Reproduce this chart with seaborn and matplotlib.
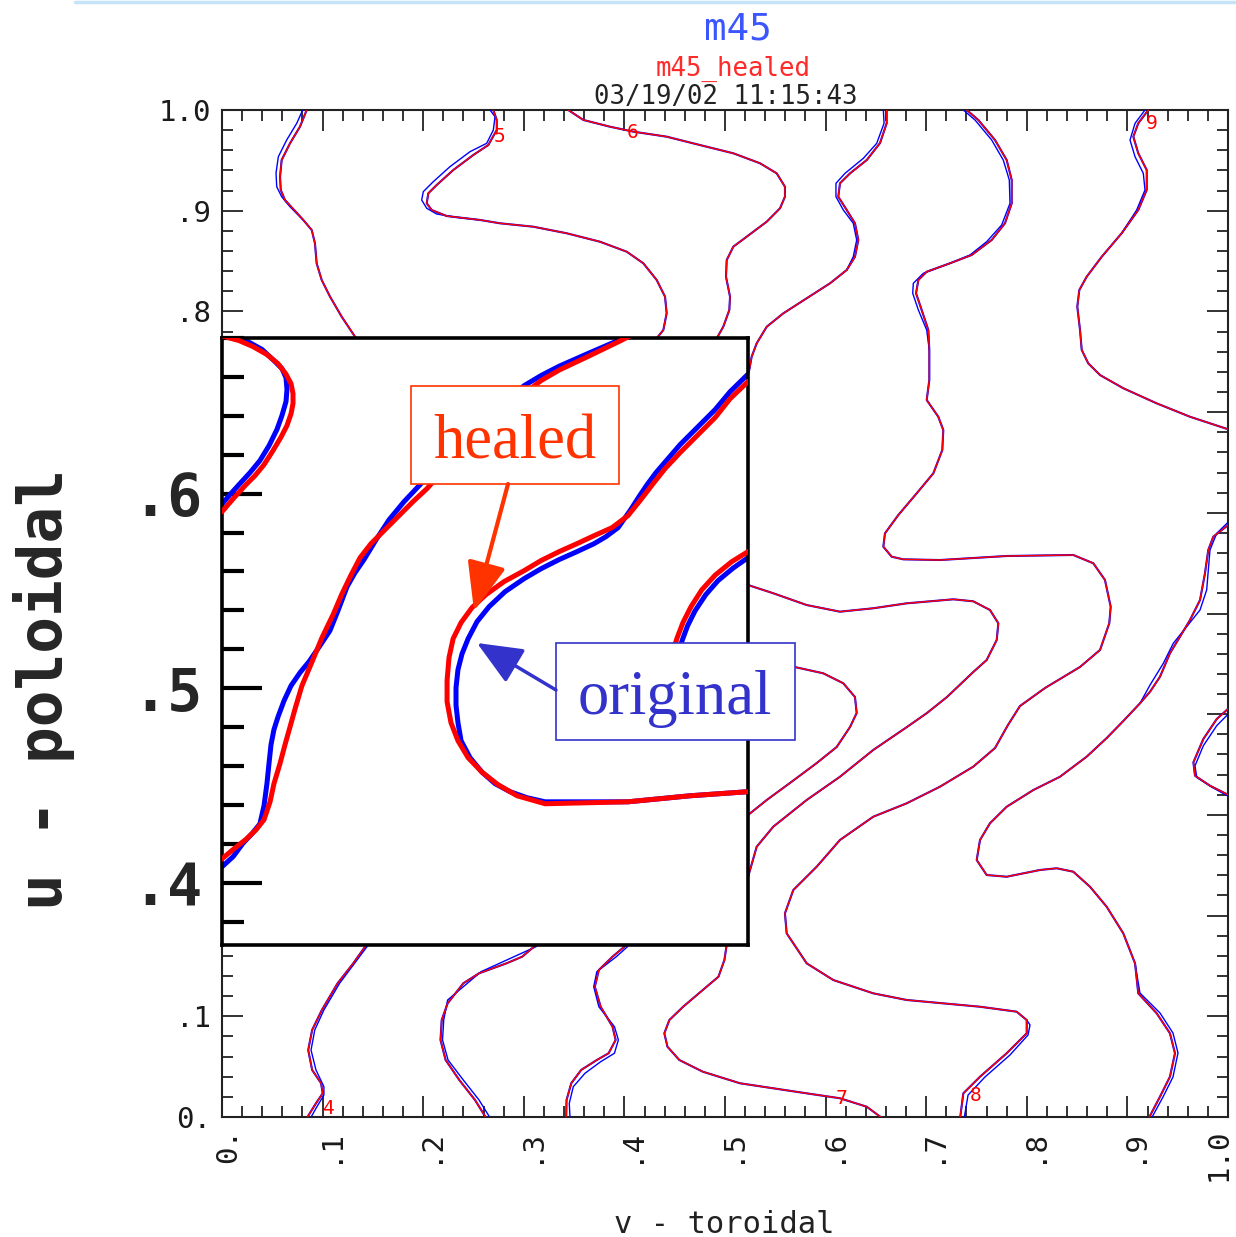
import numpy as np
import pandas as pd
import matplotlib.pyplot as plt
import seaborn as sns
from matplotlib.ticker import MultipleLocator, FixedLocator
from matplotlib.patches import Rectangle, FancyArrowPatch
from matplotlib.lines import Line2D
import matplotlib.transforms as mtransforms

# ---- main plot contours (v = toroidal, u = poloidal) ----
# healed (red) traces; *_bv/*_bu hold original (blue) where it visibly departs
c1_v = [0.0842, 0.0775, 0.0676, 0.0593, 0.0577, 0.0584, 0.0626, 0.0808, 0.0892, 0.0924, 0.0941, 0.0991, 0.1074, 0.1190, 0.1322, 0.1470]
c1_u = [1.0, 0.9834, 0.9669, 0.9503, 0.9338, 0.9206, 0.9106, 0.8908, 0.8808, 0.8676, 0.8477, 0.8312, 0.8146, 0.7947, 0.7749, 0.7557]
c1_bv = [0.0802, 0.0743, 0.0643, 0.0560, 0.0537, 0.0544, 0.0593, 0.0676, 0.0808]
c1_bu = [1.0, 0.9868, 0.9702, 0.9536, 0.9374, 0.9238, 0.9139, 0.9039, 0.8908]

c5_v = [0.2697, 0.2731, 0.2731, 0.2647, 0.2498, 0.2299, 0.2134, 0.2051, 0.2035, 0.2084, 0.2234, 0.2565, 0.2763, 0.3094,
        0.3426, 0.3757, 0.4023, 0.4188, 0.4321, 0.4404, 0.4420, 0.4387, 0.4321, 0.4205]
c5_u = [1.0, 0.9901, 0.9801, 0.9652, 0.9553, 0.9404, 0.9255, 0.9173, 0.9074, 0.9007, 0.8947, 0.8908, 0.8875, 0.8841,
        0.8776, 0.8692, 0.8593, 0.8478, 0.8312, 0.8146, 0.7981, 0.7815, 0.7733, 0.7567]
c5_bv = [0.2664, 0.2714, 0.2697, 0.2631, 0.2465, 0.2266, 0.2100, 0.2001, 0.1985, 0.2035, 0.2134, 0.2333, 0.2565]
c5_bu = [1.0, 0.9933, 0.9801, 0.9669, 0.9586, 0.9437, 0.9288, 0.9189, 0.9106, 0.9024, 0.8967, 0.8934, 0.8908]

c6_v = [0.3442, 0.3592, 0.3857, 0.4089, 0.4421, 0.4751, 0.5083, 0.5348, 0.5514, 0.5596, 0.5596, 0.5547, 0.5415, 0.5216,
        0.5083, 0.5017, 0.5010, 0.5050, 0.5043, 0.4983, 0.4918, 0.4801]
c6_u = [1.0, 0.9901, 0.9834, 0.9785, 0.9735, 0.9652, 0.9570, 0.9471, 0.9371, 0.9238, 0.9139, 0.9024, 0.8891, 0.8742,
        0.8643, 0.8510, 0.8344, 0.8146, 0.8014, 0.7848, 0.7733, 0.7557]

c7_v = [0.6607, 0.6607, 0.6541, 0.6409, 0.6243, 0.6143, 0.6126, 0.6210, 0.6292, 0.6325, 0.6292, 0.6210, 0.6044, 0.5812,
        0.5580, 0.5415, 0.5315, 0.5265, 0.5241, 0.5199]
c7_u = [1.0, 0.9868, 0.9672, 0.9503, 0.9371, 0.9272, 0.9139, 0.9007, 0.8875, 0.8709, 0.8543, 0.8411, 0.8279, 0.8130,
        0.7981, 0.7848, 0.7683, 0.7550, 0.7418, 0.7269]
c7_bv = [0.6574, 0.6581, 0.6508, 0.6375, 0.6193, 0.6103, 0.6103, 0.6176, 0.6275, 0.6309, 0.6275, 0.6210]
c7_bu = [1.0, 0.9868, 0.9669, 0.9520, 0.9371, 0.9272, 0.9139, 0.9007, 0.8875, 0.8709, 0.8543, 0.8411]

c8_v = [0.7403, 0.7518, 0.7684, 0.7800, 0.7850, 0.7850, 0.7783, 0.7651, 0.7452, 0.7237, 0.7005, 0.6922, 0.6899, 0.6955,
        0.7021, 0.7031, 0.7031, 0.7005, 0.7120, 0.7170, 0.7160, 0.7071, 0.6906, 0.6723, 0.6590, 0.6574, 0.6657, 0.6772,
        0.7137, 0.7800, 0.8462, 0.8661, 0.8777, 0.8834, 0.8820, 0.8728, 0.8529, 0.8181, 0.7932, 0.7813, 0.7684, 0.7468,
        0.7137, 0.6806, 0.6474, 0.6143, 0.5912, 0.5679, 0.5596, 0.5613, 0.5812, 0.6077, 0.6474, 0.6806, 0.7535, 0.7899,
        0.7999, 0.7999, 0.7800, 0.7535, 0.7369, 0.7336]
c8_u = [1.0, 0.9901, 0.9702, 0.9503, 0.9305, 0.9073, 0.8875, 0.8709, 0.8560, 0.8478, 0.8394, 0.8312, 0.8180, 0.8014,
        0.7815, 0.7617, 0.7319, 0.7120, 0.6954, 0.6822, 0.6624, 0.6392, 0.6194, 0.5978, 0.5796, 0.5663, 0.5564, 0.5538,
        0.5531, 0.5571, 0.5581, 0.5499, 0.5333, 0.5067, 0.4903, 0.4638, 0.4469, 0.4260, 0.4081, 0.3893, 0.3664, 0.3479,
        0.3280, 0.3115, 0.2982, 0.2751, 0.2486, 0.2254, 0.2023, 0.1824, 0.1526, 0.1360, 0.1228, 0.1162, 0.1095, 0.1046,
        0.0963, 0.0831, 0.0633, 0.0400, 0.0235, -0.002]
c8_bv = [0.7369, 0.7485, 0.7651, 0.7766, 0.7826, 0.7833, 0.7750, 0.7601, 0.7435, 0.7237, 0.6971, 0.6872, 0.6866, 0.6922,
         0.7005, 0.7031]
c8_bu = [1.0, 0.9901, 0.9702, 0.9503, 0.9305, 0.9073, 0.8858, 0.8692, 0.8560, 0.8478, 0.8378, 0.8279, 0.8180, 0.8014,
         0.7815, 0.7617]
c8_bv2 = [0.7999, 0.8032, 0.8012, 0.7833, 0.7584, 0.7416, 0.7376]
c8_bu2 = [0.0963, 0.0914, 0.0814, 0.0616, 0.0397, 0.0218, -0.002]

c9_v = [0.9208, 0.9108, 0.9059, 0.9108, 0.9192, 0.9192, 0.9108, 0.8943, 0.8745, 0.8595, 0.8522, 0.8502, 0.8529, 0.8546,
        0.8611, 0.8728, 0.8959, 0.9291, 0.9622, 1.0030]
c9_u = [1.0, 0.9868, 0.9735, 0.9570, 0.9404, 0.9206, 0.9007, 0.8776, 0.8543, 0.8344, 0.8212, 0.8047, 0.7815, 0.7617,
        0.7484, 0.7368, 0.7237, 0.7087, 0.6954, 0.6820]
c9_bv = [0.9175, 0.9076, 0.9026, 0.9076, 0.9158, 0.9175, 0.9092, 0.8943]
c9_bu = [1.0, 0.9868, 0.9702, 0.9536, 0.9371, 0.9206, 0.9007, 0.8776]

r1_v = [1.0030, 0.9854, 0.9804, 0.9771, 0.9722, 0.9622, 0.9523, 0.9423, 0.9324, 0.9225, 0.9125, 0.8959, 0.8794, 0.8595,
        0.8330, 0.8065, 0.7800, 0.7634, 0.7535, 0.7502, 0.7601, 0.7800, 0.8131, 0.8297, 0.8462, 0.8628, 0.8794, 0.8959,
        0.9076, 0.9108, 0.9291, 0.9423, 0.9473, 0.9423, 0.9324, 0.9208]
r1_u = [0.5900, 0.5763, 0.5631, 0.5399, 0.5134, 0.4935, 0.4770, 0.4605, 0.4372, 0.4223, 0.4108, 0.3932, 0.3763, 0.3578,
        0.3379, 0.3247, 0.3081, 0.2917, 0.2751, 0.2552, 0.2403, 0.2386, 0.2453, 0.2470, 0.2436, 0.2287, 0.2088, 0.1824,
        0.1526, 0.1228, 0.1030, 0.0831, 0.0633, 0.0400, 0.0202, -0.002]
r1_bv = [1.0030, 0.9888, 0.9821, 0.9788, 0.9722, 0.9589, 0.9456, 0.9357, 0.9225, 0.9125]
r1_bu = [0.5935, 0.5796, 0.5631, 0.5234, 0.5035, 0.4869, 0.4704, 0.4505, 0.4290, 0.4108]
r1_bv2 = [0.9076, 0.9125, 0.9324, 0.9453, 0.9503, 0.9453, 0.9354, 0.9235]
r1_bu2 = [0.1526, 0.1231, 0.1033, 0.0834, 0.0636, 0.0397, 0.0199, -0.002]

r2_v = [1.003, 0.9888, 0.9755, 0.9656, 0.9672, 0.9821, 1.003]
r2_u = [0.4080, 0.3952, 0.3754, 0.3522, 0.3389, 0.3290, 0.3185]
r2_bv = [1.003, 0.9888, 0.9755, 0.9672, 0.9689, 0.9838, 1.003]
r2_bu = [0.4030, 0.3886, 0.3687, 0.3488, 0.3373, 0.3277, 0.3170]

m1_v = [0.5149, 0.5229, 0.5480, 0.5812, 0.6143, 0.6474, 0.6806, 0.7270, 0.7468, 0.7634, 0.7717, 0.7701, 0.7601, 0.7468,
        0.7207, 0.7008, 0.6809, 0.6474, 0.6143, 0.5812, 0.5480, 0.5315, 0.5229, 0.5150]
m1_u = [0.5303, 0.5283, 0.5201, 0.5084, 0.5018, 0.5052, 0.5101, 0.5141, 0.5121, 0.5035, 0.4903, 0.4737, 0.4538, 0.4419,
        0.4171, 0.4012, 0.3873, 0.3645, 0.3379, 0.3148, 0.2883, 0.2684, 0.2383, 0.2200]

m2_v = [0.5646, 0.5977, 0.6176, 0.6292, 0.6309, 0.6243, 0.6110, 0.5912, 0.5646, 0.5415, 0.5229, 0.5149]
m2_u = [0.4479, 0.4406, 0.4307, 0.4171, 0.4012, 0.3873, 0.3674, 0.3515, 0.3317, 0.3148, 0.2999, 0.2929]

a_v = [0.1491, 0.1422, 0.1305, 0.1149, 0.0993, 0.0896, 0.0857, 0.0896, 0.0985, 0.1001, 0.0934, 0.0837]
a_u = [0.1807, 0.1691, 0.1526, 0.1328, 0.1063, 0.0864, 0.0665, 0.0467, 0.0335, 0.0235, 0.0136, -0.002]
a_bv = [0.1510, 0.1441, 0.1169, 0.1013, 0.0922, 0.0885, 0.0934, 0.1013, 0.1013, 0.0934, 0.0875]
a_bu = [0.1807, 0.1691, 0.1328, 0.1063, 0.0864, 0.0665, 0.0467, 0.0301, 0.0218, 0.0086, -0.002]

b_v = [0.3211, 0.3101, 0.2984, 0.2828, 0.2555, 0.2399, 0.2243, 0.2184, 0.2172, 0.2223, 0.2359, 0.2515, 0.2632]
b_u = [0.1807, 0.1691, 0.1592, 0.1526, 0.1427, 0.1328, 0.1129, 0.0963, 0.0765, 0.0566, 0.0367, 0.0169, -0.002]
b_bv = [0.3231, 0.3121, 0.2575, 0.2243, 0.2204, 0.2192, 0.2247, 0.2399, 0.2555, 0.2672]
b_bu = [0.1807, 0.1691, 0.1443, 0.1162, 0.0963, 0.0765, 0.0566, 0.0367, 0.0169, -0.002]

c_v = [0.4076, 0.3999, 0.3882, 0.3746, 0.3706, 0.3764, 0.3882, 0.3913, 0.3843, 0.3726, 0.3570, 0.3472, 0.3425, 0.3421]
c_u = [0.1807, 0.1691, 0.1592, 0.1460, 0.1294, 0.1095, 0.0897, 0.0765, 0.0633, 0.0566, 0.0467, 0.0335, 0.0169, -0.002]
c_bv = [0.4107, 0.4030, 0.3920, 0.3726, 0.3695, 0.3746, 0.3901, 0.3940, 0.3901, 0.3764, 0.3608, 0.3492, 0.3452, 0.3460]
c_bu = [0.1807, 0.1691, 0.1592, 0.1443, 0.1294, 0.1095, 0.0897, 0.0765, 0.0633, 0.0549, 0.0434, 0.0301, 0.0136, -0.002]

d_v = [0.5030, 0.5014, 0.4994, 0.4935, 0.4779, 0.4584, 0.4447, 0.4397, 0.4428, 0.4546, 0.4779, 0.5149, 0.5480, 0.5812,
       0.6143, 0.6409, 0.6574]
d_u = [0.1807, 0.1691, 0.1559, 0.1393, 0.1261, 0.1095, 0.0963, 0.0831, 0.0698, 0.0566, 0.0450, 0.0335, 0.0285, 0.0235,
       0.0186, 0.0102, -0.002]

# contour level labels
clab_text = ['4', '5', '6', '7', '8', '9']
clab_v = [0.1060, 0.2763, 0.4085, 0.6160, 0.7495, 0.9241]
clab_u = [0.0089, 0.9732, 0.9772, 0.0186, 0.0218, 0.9868]

# ---- zoomed inset (same contours, magnified) ----
i1_v = [-0.001, 0.0031, 0.0087, 0.0159, 0.0231, 0.0288, 0.0329, 0.0355, 0.0365, 0.0365, 0.0355, 0.0334, 0.0303, 0.0262,
        0.0216, 0.0170, 0.0123, 0.0062, 0.0, -0.004]
i1_u = [0.6815, 0.6802, 0.6787, 0.6756, 0.6715, 0.6668, 0.6614, 0.6565, 0.6514, 0.6463, 0.6411, 0.6350, 0.6290, 0.6221,
        0.6149, 0.6093, 0.6046, 0.5979, 0.5907, 0.5885]
i1_bv = [0.008, 0.0123, 0.0206, 0.0267, 0.0308, 0.0329, 0.0334, 0.0329, 0.0308, 0.0283, 0.0242, 0.0195, 0.0144, 0.0087,
         0.0041, 0.0, -0.004]
i1_bu = [0.6815, 0.6787, 0.6741, 0.6684, 0.6643, 0.6596, 0.6535, 0.6473, 0.6401, 0.6331, 0.6247, 0.6170, 0.6108, 0.6046,
         0.5995, 0.5946, 0.5925]

i2_v = [-0.004, 0.0, 0.0062, 0.0123, 0.0175, 0.0216, 0.0247, 0.0267, 0.0298, 0.0324, 0.0350, 0.0375, 0.0411, 0.0463,
        0.0514, 0.0571, 0.0617, 0.0663, 0.0710, 0.0766, 0.0838, 0.0910, 0.0982, 0.1054, 0.1126, 0.1198, 0.1285, 0.1373,
        0.1465, 0.1553, 0.1640, 0.1733, 0.1892, 0.2051, 0.2105]
i2_u = [0.4100, 0.4123, 0.4175, 0.4223, 0.4272, 0.4324, 0.4416, 0.4509, 0.4612, 0.4710, 0.4802, 0.4892, 0.5013, 0.5136,
        0.5260, 0.5378, 0.5486, 0.5581, 0.5671, 0.5743, 0.5815, 0.5887, 0.5959, 0.6026, 0.6108, 0.6190, 0.6272, 0.6350,
        0.6437, 0.6514, 0.6581, 0.6635, 0.6710, 0.6787, 0.6815]
i2_bv = [-0.004, 0.0, 0.0057, 0.0108, 0.0154, 0.0195, 0.0216, 0.0231, 0.0242, 0.0252, 0.0267, 0.0288, 0.0319, 0.0355,
         0.0401, 0.0447, 0.0504, 0.0555, 0.0596, 0.0643, 0.0684, 0.0730, 0.0792, 0.0859, 0.0936, 0.1018, 0.1105, 0.1198,
         0.1285, 0.1373, 0.1465, 0.1553, 0.1640, 0.1733, 0.1892, 0.2036, 0.2090]
i2_bu = [0.4060, 0.4082, 0.4134, 0.4203, 0.4252, 0.4303, 0.4396, 0.4509, 0.4617, 0.4710, 0.4787, 0.4853, 0.4936, 0.5013,
         0.5080, 0.5136, 0.5219, 0.5296, 0.5398, 0.5522, 0.5594, 0.5661, 0.5763, 0.5866, 0.5959, 0.6046, 0.6139, 0.6231,
         0.6314, 0.6391, 0.6478, 0.6555, 0.6607, 0.6655, 0.6725, 0.6787, 0.6815]

i3_v = [0.2750, 0.2704, 0.2612, 0.2535, 0.2442, 0.2355, 0.2278, 0.2216, 0.2149, 0.2087, 0.2005, 0.1913, 0.1825, 0.1733,
        0.1640, 0.1553, 0.1450, 0.1357, 0.1285, 0.1229, 0.1188, 0.1167, 0.1157, 0.1157, 0.1177, 0.1213, 0.1265, 0.1337,
        0.1419, 0.1517, 0.1661, 0.2087, 0.2406, 0.2704, 0.2750]
i3_u = [0.6600, 0.6576, 0.6488, 0.6391, 0.6298, 0.6211, 0.6129, 0.6051, 0.5964, 0.5887, 0.5825, 0.5784, 0.5743, 0.5702,
        0.5656, 0.5604, 0.5548, 0.5481, 0.5414, 0.5337, 0.5254, 0.5157, 0.5039, 0.4931, 0.4823, 0.4730, 0.4643, 0.4568,
        0.4504, 0.4447, 0.4406, 0.4416, 0.4447, 0.4468, 0.4470]
i3_bv = [0.2750, 0.2704, 0.2612, 0.2535, 0.2442, 0.2355, 0.2293, 0.2231, 0.2185, 0.2144, 0.2098, 0.2036, 0.1974, 0.1913,
         0.1825, 0.1733, 0.1640, 0.1553, 0.1455, 0.1373, 0.1311, 0.1265, 0.1234, 0.1213, 0.1203, 0.1203, 0.1213, 0.1229,
         0.1275, 0.1337, 0.1404, 0.1481, 0.1568, 0.1661, 0.2087, 0.2406, 0.2704, 0.2750]
i3_bu = [0.6640, 0.6614, 0.6524, 0.6432, 0.6339, 0.6252, 0.6180, 0.6108, 0.6046, 0.5985, 0.5913, 0.5825, 0.5779, 0.5743,
         0.5702, 0.5661, 0.5614, 0.5563, 0.5496, 0.5419, 0.5342, 0.5254, 0.5177, 0.5095, 0.5003, 0.4912, 0.4823, 0.4730,
         0.4643, 0.4568, 0.4509, 0.4468, 0.4437, 0.4416, 0.4416, 0.4447, 0.4468, 0.4470]

i4_v = [0.2750, 0.2704, 0.2620, 0.2535, 0.2466, 0.2411, 0.2370, 0.2339, 0.2303, 0.2290]
i4_u = [0.5730, 0.5702, 0.5650, 0.5581, 0.5505, 0.5419, 0.5338, 0.5257, 0.5141, 0.5000]
i4_bv = [0.2750, 0.2704, 0.2627, 0.2550, 0.2487, 0.2432, 0.2394, 0.2365, 0.2334, 0.2320]
i4_bu = [0.5700, 0.5671, 0.5617, 0.5553, 0.5481, 0.5398, 0.5322, 0.5244, 0.5141, 0.5000]

# ---- ticks / labels ----
x_ticks = [0.0, 0.1, 0.2, 0.3, 0.4, 0.5, 0.6, 0.7, 0.8, 0.9, 1.0]
x_tick_labels = ['0.', '.1', '.2', '.3', '.4', '.5', '.6', '.7', '.8', '.9', '1.0']
y_tick_labels = ['0.', '.1', '', '', '', '', '', '', '.8', '.9', '1.0']
inset_ticks = [0.4, 0.5, 0.6]
inset_tick_labels = ['.4', '.5', '.6']

BLUE = '#0000ff'
RED = '#ff0000'
HEAL_C = '#ff3300'
ORIG_C = '#3333cc'

sns.set_theme(style='ticks')
plt.rcParams['font.family'] = ['DejaVu Sans Mono', 'DejaVu Sans']

W, H = 1236, 1237
fig = plt.figure(figsize=(W / 100, H / 100), dpi=100)
fig.patch.set_facecolor('white')


def fx(px):
    return px / W


def fy(py):
    return 1 - py / H


def trace(axis, v, u, color, lw, z):
    sns.lineplot(x=v, y=u, sort=False, estimator=None, color=color,
                 linewidth=lw, ax=axis, zorder=z)


# !! main axes !!
ax = fig.add_axes([fx(222), fy(1117), fx(1228) - fx(222), fy(110) - fy(1117)])
ax.set_facecolor('white')

healed_main = [(c1_v, c1_u), (c5_v, c5_u), (c6_v, c6_u), (c7_v, c7_u), (c8_v, c8_u), (c9_v, c9_u),
               (r1_v, r1_u), (r2_v, r2_u), (m1_v, m1_u), (m2_v, m2_u), (a_v, a_u), (b_v, b_u),
               (c_v, c_u), (d_v, d_u)]
orig_main = [(c1_bv, c1_bu), (c5_bv, c5_bu), (c7_bv, c7_bu), (c8_bv, c8_bu), (c8_bv2, c8_bu2),
             (c9_bv, c9_bu), (r1_bv, r1_bu), (r1_bv2, r1_bu2), (r2_bv, r2_bu), (a_bv, a_bu),
             (b_bv, b_bu), (c_bv, c_bu)]

for v, u in healed_main:
    trace(ax, v, u, BLUE, 1.5, 2)
for v, u in orig_main:
    trace(ax, v, u, BLUE, 1.0, 3)
for v, u in healed_main:
    trace(ax, v, u, RED, 1.05, 4)

for t, v, u in zip(clab_text, clab_v, clab_u):
    ax.text(v, u, t, color=RED, fontsize=14, ha='center', va='center', zorder=5)

ax.set_xlim(0, 1)
ax.set_ylim(0, 1)
ax.set_xlabel('')
ax.set_ylabel('')
ax.set_xticks(x_ticks, x_tick_labels, rotation=90)
ax.set_yticks(x_ticks, y_tick_labels)
ax.xaxis.set_minor_locator(MultipleLocator(0.02))
ax.yaxis.set_minor_locator(MultipleLocator(0.02))
ax.tick_params(which='both', direction='in', top=True, right=True, color='#222222', width=1.3)
ax.tick_params(which='major', length=15, labelsize=21, pad=8, labelcolor='#1a1a1a')
ax.tick_params(which='minor', length=8)
for s in ax.spines.values():
    s.set_linewidth(1.5)
    s.set_color('#222222')
xlbls = ax.get_xticklabels()
for lbl in xlbls[:-1]:
    lbl.set_transform(lbl.get_transform() + mtransforms.ScaledTranslation(6 / 100, 0, fig.dpi_scale_trans))
xlbls[-1].set_transform(xlbls[-1].get_transform() + mtransforms.ScaledTranslation(-9 / 100, 0, fig.dpi_scale_trans))

# !! zoomed inset !!
axi = fig.add_axes([fx(222), fy(945), fx(748) - fx(222), fy(338) - fy(945)])
axi.set_facecolor('white')
inset_orig = [(i1_bv, i1_bu), (i2_bv, i2_bu), (i3_bv, i3_bu), (i4_bv, i4_bu)]
inset_healed = [(i1_v, i1_u), (i2_v, i2_u), (i3_v, i3_u), (i4_v, i4_u)]
for v, u in inset_orig:
    trace(axi, v, u, BLUE, 3.6, 2)
for v, u in inset_healed:
    trace(axi, v, u, RED, 3.6, 3)
axi.set_xlim(0, 0.2704)
axi.set_ylim(0.368, 0.680)
axi.set_xlabel('')
axi.set_ylabel('')
axi.set_xticks([])
axi.yaxis.set_major_locator(FixedLocator(inset_ticks))
axi.set_yticklabels(inset_tick_labels)
axi.yaxis.set_minor_locator(MultipleLocator(0.02))
axi.tick_params(axis='y', which='both', direction='in', color='black', width=3)
axi.tick_params(axis='y', which='major', length=29, pad=14, labelsize=42)
axi.tick_params(axis='y', which='minor', length=16)
for lbl in axi.get_yticklabels():
    lbl.set_fontweight('bold')
for s in axi.spines.values():
    s.set_linewidth(2.6)
    s.set_color('black')

# !! labels and titles !!
fig.text(fx(44), fy(690), 'u - poloidal', rotation=90, fontsize=44, fontweight='bold',
         ha='center', va='center')
fig.text(fx(724), fy(1233), 'v - toroidal', fontsize=22, color='#222222', ha='center', va='baseline')
fig.text(fx(738), fy(40), 'm45', color='#3b55ff', fontsize=27, ha='center', va='baseline')
fig.text(fx(733), fy(76), 'm45_healed', color='#ff2a2a', fontsize=18.5, ha='center', va='baseline')
fig.text(fx(726), fy(104), '03/19/02 11:15:43', color='#222222', fontsize=18.5, ha='center', va='baseline')
fig.add_artist(Line2D([fx(75), 1.0], [fy(1.5), fy(1.5)], color='#c6e4f7', lw=2.5))

# !! callout boxes !!
fig.add_artist(Rectangle((fx(411), fy(484)), fx(619) - fx(411), fy(386) - fy(484),
                         facecolor='white', edgecolor=HEAL_C, lw=1.2, zorder=10))
fig.text(fx(515), fy(459), 'healed', color=HEAL_C, fontsize=45, family='Liberation Serif',
         ha='center', va='baseline', zorder=11)
fig.add_artist(FancyArrowPatch((fx(508), fy(484)), (fx(474), fy(611)),
                               arrowstyle='-|>,head_length=0.75,head_width=0.3', mutation_scale=40,
                               color=HEAL_C, lw=3, shrinkA=0, shrinkB=0, zorder=11))

fig.add_artist(Rectangle((fx(556), fy(740)), fx(795) - fx(556), fy(643) - fy(740),
                         facecolor='white', edgecolor=ORIG_C, lw=1.2, zorder=10))
fig.text(fx(675), fy(714), 'original', color=ORIG_C, fontsize=45, family='Liberation Serif',
         ha='center', va='baseline', zorder=11)
fig.add_artist(FancyArrowPatch((fx(556), fy(690)), (fx(477), fy(643)),
                               arrowstyle='-|>,head_length=0.7,head_width=0.3', mutation_scale=40,
                               color=ORIG_C, lw=2.5, shrinkA=0, shrinkB=0, zorder=11))

fig.savefig('out.png', dpi=100, facecolor='white')
